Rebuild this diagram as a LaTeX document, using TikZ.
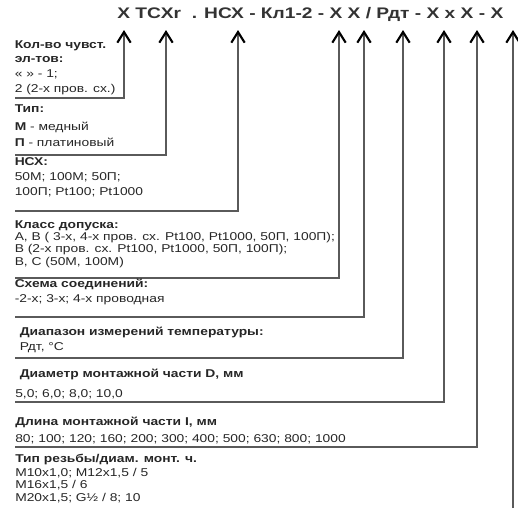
\documentclass[tikz,border=0pt]{standalone}
\usepackage{fontspec}
\setmainfont{Liberation Sans}[FakeStretch=1.22]
\newfontfamily\codefont{Liberation Sans}[FakeStretch=1.25]
\usetikzlibrary{arrows.meta,positioning}
\definecolor{LeadGray}{HTML}{5A5A5A}
\definecolor{TextDark}{HTML}{262626}
\definecolor{CodeDark}{HTML}{333333}
\newcommand{\infolines}[1]{\begin{tabular}[t]{@{}l@{}}#1\end{tabular}}
\tikzset{
    lead/.style = {draw=LeadGray, line width=1pt,
        -{Straight Barb[color=black, length=8pt, width=10pt, line width=1.6pt]}},
    info/.style = {anchor=base west, inner sep=0pt, text=TextDark,
        font=\fontsize{8.5}{11}\selectfont},
    infohead/.style = {info, font=\fontsize{8.5}{11}\selectfont\bfseries},
    codeline/.style = {anchor=base west, inner sep=0pt, text=CodeDark,
        font=\codefont\fontsize{11.5}{14}\selectfont\bfseries}
}

\begin{document}
\begin{tikzpicture}[x=0.75pt,y=-0.75pt]
    \useasboundingbox (0,0) rectangle (518,511);
    % code string
    \node [codeline] (code) at (117,18.5) {X TCXr\ \ . НСХ - Кл1-2 - X X / Рдт - X x X - X};
    % leads: tip x / bottom y
    \foreach \x/\y [count=\i] in {124/98, 166/155, 238/211, 339/278, 364/317,
                                 403/358, 444/402, 477/447} {
        \coordinate (tip\i) at (\x,30);
        \coordinate (corner\i) at (\x,\y);
        \coordinate (start\i) at (15,\y);
        \draw [lead] (start\i) -- (corner\i) -- (tip\i);
    }
    \coordinate (tip9) at (513,30);
    \coordinate (end9) at (513,508);
    \draw [lead] (end9) -- (tip9);
    % texts
    \node [info] (kolvo) at (14.5,48) {\infolines{\textbf{Кол-во чувст.}\\ \textbf{эл-тов:}\\« » - 1;\\2 (2-х пров. сх.)}};
    \node [infohead] (tiphead) at (14.5,112) {Тип:};
    \node [info, font=\fontsize{8.5}{12}\selectfont] (tipval) at (14.5,130.5) {\infolines{\textbf{М} - медный\\\textbf{П} - платиновый}};
    \node [infohead] (nshhead) at (14.5,165.5) {НСХ:};
    \node [info] (nshval) at (14.5,180.5) {\infolines{50M; 100M; 50П;\\100П; Pt100; Pt1000}};
    \node [infohead] (klasshead) at (14.5,228) {Класс допуска:};
    \node [info, font=\fontsize{8.5}{9.5}\selectfont] (klassval) at (14.5,240) {\infolines{A, B ( 3-х, 4-х пров. сх. Pt100, Pt1000, 50П, 100П);\\B (2-х пров. сх. Pt100, Pt1000, 50П, 100П);\\B, C (50M, 100M)}};
    \node [infohead] (shemahead) at (14.5,287) {Схема соединений:};
    \node [info] (shemaval) at (14.5,302) {-2-х; 3-х; 4-х проводная};
    \node [infohead] (diaphead) at (19.5,335.5) {Диапазон измерений температуры:};
    \node [info] (diapval) at (19.5,350.5) {Рдт, °С};
    \node [infohead] (diamhead) at (19.5,377) {Диаметр монтажной части D, мм};
    \node [info] (diamval) at (15,397) {5,0; 6,0; 8,0; 10,0};
    \node [infohead] (dlinahead) at (15,425.5) {Длина монтажной части I, мм};
    \node [info] (dlinaval) at (15,442) {80; 100; 120; 160; 200; 300; 400; 500; 630; 800; 1000};
    \node [infohead] (rezbhead) at (15,462) {Тип резьбы/диам. монт. ч.};
    \node [info, font=\fontsize{8.5}{9.7}\selectfont] (rezbval) at (15,476) {\infolines{M10x1,0; M12x1,5 / 5\\M16x1,5 / 6\\M20x1,5; G½ / 8; 10}};
\end{tikzpicture}
\end{document}
